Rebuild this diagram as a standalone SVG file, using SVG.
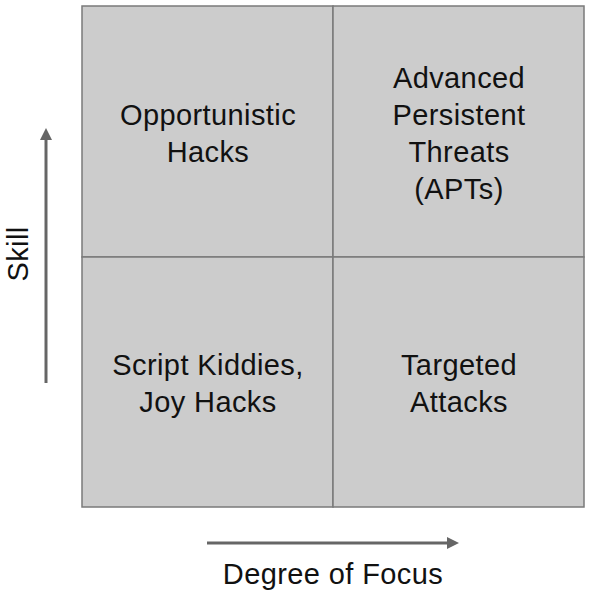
<svg xmlns="http://www.w3.org/2000/svg" width="589" height="596" viewBox="0 0 589 596">
  <style>
    .cell { fill: #cccccc; stroke: #7a7a7a; stroke-width: 1.5; }
    .lbl { font-family: "Liberation Sans", Arial, sans-serif; font-size: 29px; letter-spacing: 0.4px; fill: #111111; text-anchor: middle; }
    .axis { stroke: #666666; stroke-width: 3; fill: none; }
  </style>
  <defs>
    <marker id="head" viewBox="0 0 10 10" refX="0" refY="5" markerWidth="4" markerHeight="4" orient="auto" markerUnits="strokeWidth">
      <path d="M0,0 L10,5 L0,10 Z" fill="#666666"/>
    </marker>
  </defs>
  <rect width="589" height="596" fill="#ffffff"/>

  <g id="opportunistic">
    <rect class="cell" x="82" y="6" width="251" height="251"/>
    <text class="lbl" x="208" y="125">Opportunistic</text>
    <text class="lbl" x="208" y="162">Hacks</text>
  </g>
  <g id="apt">
    <rect class="cell" x="333" y="6" width="251" height="251"/>
    <text class="lbl" x="459" y="88">Advanced</text>
    <text class="lbl" x="459" y="125">Persistent</text>
    <text class="lbl" x="459" y="162">Threats</text>
    <text class="lbl" x="459" y="199">(APTs)</text>
  </g>
  <g id="script-kiddies">
    <rect class="cell" x="82" y="257" width="251" height="250"/>
    <text class="lbl" x="208" y="375">Script Kiddies,</text>
    <text class="lbl" x="208" y="412">Joy Hacks</text>
  </g>
  <g id="targeted">
    <rect class="cell" x="333" y="257" width="251" height="250"/>
    <text class="lbl" x="459" y="375">Targeted</text>
    <text class="lbl" x="459" y="412">Attacks</text>
  </g>

  <g id="axes">
    <line class="axis" x1="46" y1="383" x2="46" y2="140" marker-end="url(#head)"/>
    <line class="axis" x1="207" y1="543" x2="447" y2="543" marker-end="url(#head)"/>
  </g>
  <g id="axis-labels">
    <text class="lbl" transform="translate(28,254) rotate(-90)" x="0" y="0">Skill</text>
    <text class="lbl" x="333" y="584">Degree of Focus</text>
  </g>
</svg>
